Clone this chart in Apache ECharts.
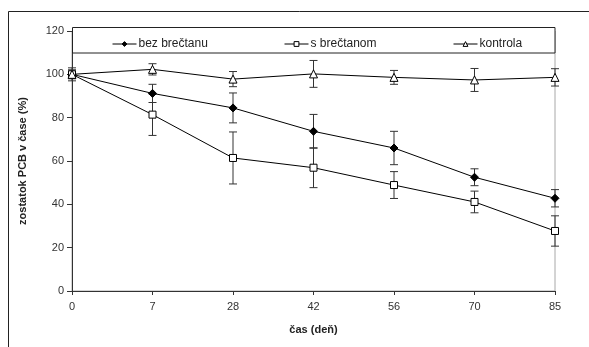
<!DOCTYPE html>
<html>
<head>
<meta charset="utf-8">
<script src="https://cdn.jsdelivr.net/npm/echarts@6/dist/echarts.min.js"></script>
<style>
  html, body { margin: 0; padding: 0; background: #fff; }
  #chart { width: 589px; height: 347px; }
</style>
</head>
<body>
<div id="chart"></div>
<script>
var chart = echarts.init(document.getElementById('chart'));

// dni odberu
const days = ['0', '7', '28', '42', '56', '70', '85'];
const yTicks = [0, 20, 40, 60, 80, 100, 120];

// zostatok PCB (%)
const bezBrectanu = [100, 91.2, 84.5, 73.7, 66.0, 52.5, 42.8];
const sBrectanom = [100, 81.4, 61.4, 56.9, 48.9, 41.1, 27.7];
const kontrola = [100, 102.3, 97.8, 100.2, 98.6, 97.4, 98.6];

// smerodajne odchylky
const bezErr = [2, 4.2, 6.9, 7.8, 7.7, 3.9, 4.0];
const sErr = [2, 9.6, 12.0, 9.2, 6.2, 5.0, 7.0];
const kontrolaErr = [3, 2.6, 3.5, 6.2, 3.2, 5.3, 4.0];

const names = ['bez brečtanu', 's brečtanom', 'kontrola'];

function errData(vals, errs) {
  return vals.map(function (v, i) {
    return [i, v - errs[i], v + errs[i]];
  });
}

function renderErr(params, api) {
  var lo = api.coord([api.value(0), api.value(1)]);
  var hi = api.coord([api.value(0), api.value(2)]);
  var w = 4;
  var style = { stroke: '#333', lineWidth: 1, fill: null };
  return {
    type: 'group',
    children: [
      { type: 'line', shape: { x1: hi[0], y1: hi[1], x2: lo[0], y2: lo[1] }, style: style },
      { type: 'line', shape: { x1: hi[0] - w, y1: hi[1], x2: hi[0] + w, y2: hi[1] }, style: style },
      { type: 'line', shape: { x1: lo[0] - w, y1: lo[1], x2: lo[0] + w, y2: lo[1] }, style: style }
    ]
  };
}

function errSeries(vals, errs) {
  return {
    type: 'custom',
    renderItem: renderErr,
    data: errData(vals, errs),
    z: 2,
    silent: true
  };
}

var lineStyle = { color: '#000', width: 1 };
var font = 'Liberation Sans, Arial, sans-serif';

function legendAt(name, left) {
  return {
    data: [name],
    left: left,
    top: 33,
    itemWidth: 24,
    itemHeight: 6,
    lineStyle: { width: 1 },
    itemStyle: { borderWidth: 1 },
    textStyle: { fontFamily: font, fontSize: 12, color: '#222', padding: [0, 0, 0, -3] },
    z: 10
  };
}

var option = {
  animation: false,
  backgroundColor: '#fff',
  textStyle: { fontFamily: font },
  graphic: [
    {
      type: 'rect',
      shape: { x: 8.5, y: 11.5, width: 620, height: 400 },
      style: { fill: null, stroke: '#222', lineWidth: 1 },
      z: 1
    },
    {
      type: 'rect',
      shape: { x: 72.5, y: 27.5, width: 482.5, height: 25.5 },
      style: { fill: '#fff', stroke: '#222', lineWidth: 1 },
      z: 5
    }
  ],
  legend: [
    legendAt(names[0], 107),
    legendAt(names[1], 279),
    legendAt(names[2], 448)
  ],
  grid: {
    left: 72,
    right: 34,
    top: 31,
    bottom: 56,
    show: true,
    borderColor: '#a8a8a8',
    borderWidth: 1
  },
  xAxis: {
    type: 'category',
    data: days,
    boundaryGap: false,
    name: 'čas (deň)',
    nameLocation: 'middle',
    nameGap: 33,
    nameTextStyle: { fontFamily: font, fontWeight: 'bold', fontSize: 11, color: '#222' },
    axisLine: { lineStyle: { color: '#333', width: 1 } },
    axisTick: { show: true, alignWithLabel: true, length: 4, lineStyle: { color: '#333' } },
    axisLabel: { fontFamily: font, fontSize: 11, color: '#333', margin: 10 },
    splitLine: { show: false }
  },
  yAxis: {
    type: 'value',
    min: yTicks[0],
    max: yTicks[yTicks.length - 1],
    interval: 20,
    name: 'zostatok PCB v čase (%)',
    nameLocation: 'middle',
    nameGap: 44,
    nameTextStyle: { fontFamily: font, fontWeight: 'bold', fontSize: 11, color: '#222' },
    axisLine: { show: true, lineStyle: { color: '#333', width: 1 } },
    axisTick: { show: true, length: 5, lineStyle: { color: '#333' } },
    axisLabel: { fontFamily: font, fontSize: 11, color: '#333', margin: 8 },
    splitLine: { show: false }
  },
  series: [
    {
      name: names[0],
      type: 'line',
      data: bezBrectanu,
      symbol: 'diamond',
      symbolSize: 8,
      itemStyle: { color: '#000', borderColor: '#000' },
      lineStyle: lineStyle,
      z: 4
    },
    {
      name: names[1],
      type: 'line',
      data: sBrectanom,
      symbol: 'rect',
      symbolSize: 7,
      itemStyle: { color: '#fff', borderColor: '#000', borderWidth: 1 },
      lineStyle: lineStyle,
      z: 4
    },
    {
      name: names[2],
      type: 'line',
      data: kontrola,
      symbol: 'triangle',
      symbolSize: 8,
      itemStyle: { color: '#fff', borderColor: '#000', borderWidth: 1 },
      lineStyle: lineStyle,
      z: 4
    },
    errSeries(bezBrectanu, bezErr),
    errSeries(sBrectanom, sErr),
    errSeries(kontrola, kontrolaErr)
  ]
};

chart.setOption(option);
</script>
</body>
</html>
